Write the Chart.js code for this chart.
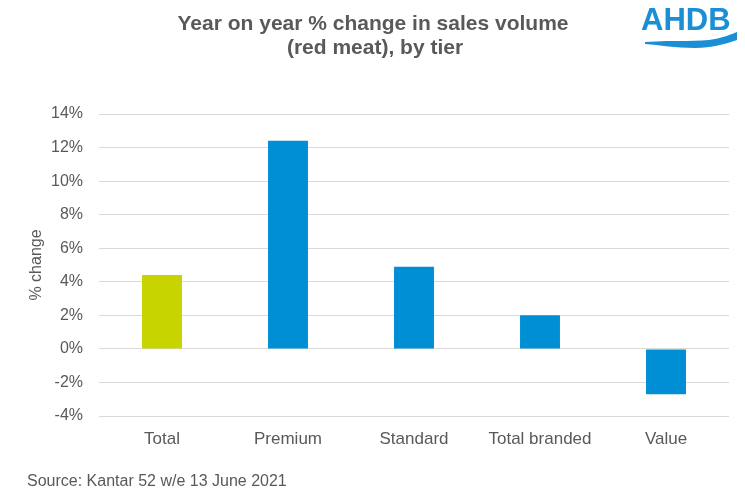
<!DOCTYPE html>
<html>
<head>
<meta charset="utf-8">
<script src="https://cdn.jsdelivr.net/npm/chart.js@4/dist/chart.umd.min.js"></script>
<style>
  html, body { margin: 0; padding: 0; background: #ffffff; }
  #wrap { width: 745px; height: 492px; position: relative; }
</style>
</head>
<body>
<div id="wrap"><canvas id="canvas-tier" width="745" height="492"></canvas></div>
<script>
var categories = ['Total', 'Premium', 'Standard', 'Total branded', 'Value'];
var changeValues = [4.4, 12.4, 4.9, 2.0, -2.7];
var barColors = ['#c8d400', '#008fd5', '#008fd5', '#008fd5', '#008fd5'];
var titleLines = ['Year on year % change in sales volume', '(red meat), by tier'];
var sourceText = 'Source: Kantar 52 w/e 13 June 2021';

var textGrey = '#595959';
var fontFamily = '"Liberation Sans", Arial, sans-serif';

// title, logo and source line
var decorPlugin = {
    id: 'decor',
    afterDraw: function(chart){
        var ctx = chart.ctx;
        ctx.save();
        ctx.fillStyle = textGrey;
        ctx.font = 'bold 21px ' + fontFamily;
        ctx.textAlign = 'center';
        ctx.textBaseline = 'alphabetic';
        ctx.fillText(titleLines[0], 373, 30);
        ctx.fillText(titleLines[1], 375, 54);

        ctx.font = '16px ' + fontFamily;
        ctx.textAlign = 'left';
        ctx.fillText(sourceText, 27, 486);

        // AHDB logo
        ctx.fillStyle = '#1a8fd6';
        ctx.font = 'bold 31px ' + fontFamily;
        ctx.fillText('AHDB', 641, 30);
        ctx.beginPath();
        ctx.moveTo(645, 42);
        ctx.bezierCurveTo(675, 40, 700, 42, 715, 39);
        ctx.bezierCurveTo(725, 37, 732, 34, 737, 32);
        ctx.lineTo(737, 40);
        ctx.bezierCurveTo(725, 44, 712, 48, 695, 48);
        ctx.bezierCurveTo(675, 48, 660, 45, 645, 44);
        ctx.closePath();
        ctx.fill();
        ctx.restore();
    }
};

var ctx = document.getElementById('canvas-tier').getContext('2d');
var tierChart = new Chart(ctx, {
    type: 'bar',
    data: {
        labels: categories,
        datasets: [{
            data: changeValues,
            backgroundColor: barColors,
            borderWidth: 0,
            categoryPercentage: 1,
            barPercentage: 0.317
        }]
    },
    options: {
        responsive: false,
        animation: false,
        devicePixelRatio: 1,
        layout: {
            padding: { top: 114, right: 16, bottom: 46, left: 0 }
        },
        plugins: {
            legend: { display: false },
            tooltip: { enabled: false }
        },
        scales: {
            x: {
                grid: { display: false },
                border: { display: false },
                ticks: {
                    color: textGrey,
                    font: { family: fontFamily, size: 17 },
                    padding: 5
                },
                afterFit: function(scale){ scale.height = 30; }
            },
            y: {
                min: -4,
                max: 14,
                ticks: {
                    stepSize: 2,
                    color: textGrey,
                    font: { family: fontFamily, size: 16 },
                    padding: 16,
                    callback: function(v){ return v + '%'; }
                },
                grid: { color: '#d9d9d9', lineWidth: 1, drawTicks: false },
                border: { display: false },
                title: {
                    display: true,
                    text: '% change',
                    color: textGrey,
                    font: { family: fontFamily, size: 16 },
                    padding: { top: 27, bottom: 0 }
                },
                afterFit: function(scale){ scale.width = 99; }
            }
        }
    },
    plugins: [decorPlugin]
});
</script>
</body>
</html>
